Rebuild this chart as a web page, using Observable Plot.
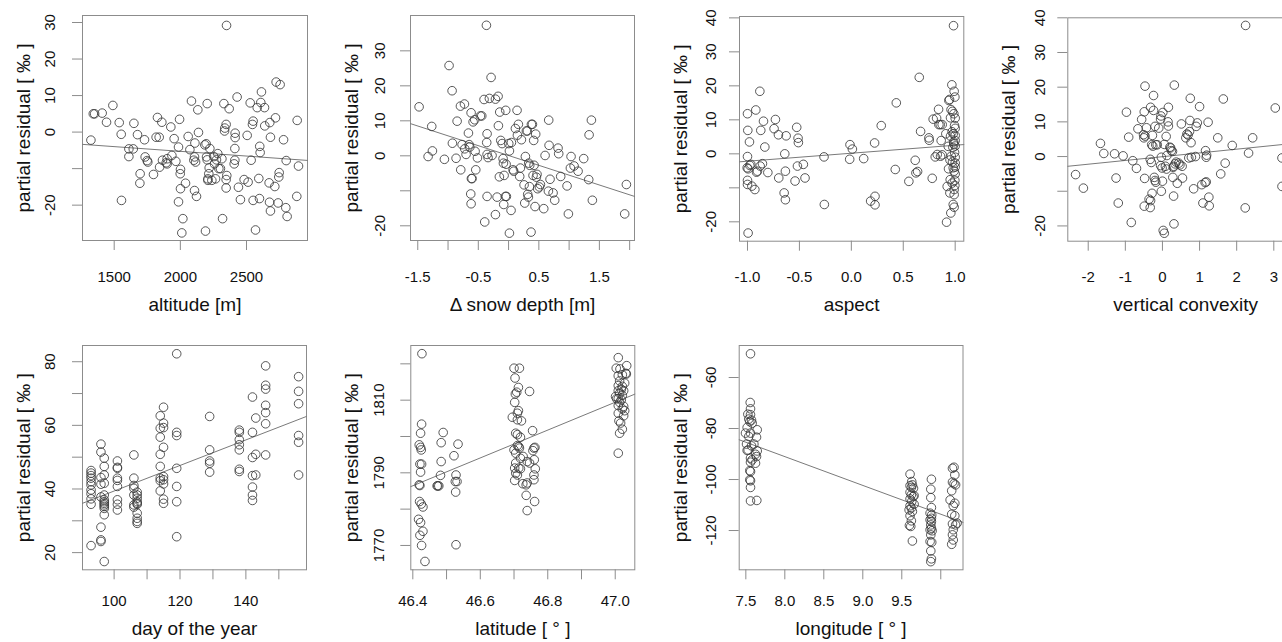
<!DOCTYPE html>
<html>
<head>
<meta charset="utf-8">
<script src="https://cdn.jsdelivr.net/npm/d3@7"></script>
<script src="https://cdn.jsdelivr.net/npm/@observablehq/plot@0.6"></script>
<style>
html, body { margin: 0; padding: 0; background: #fff; overflow: hidden; width: 1282px; height: 642px; }
#root { position: relative; width: 1282px; height: 642px; overflow: hidden; background: #fff; }
#root svg { position: absolute; }
</style>
</head>
<body>
<div id="root"></div>
<script>
// ---------- data ----------
const altitude = [2349,1324,1342,1352,1409,1442,1490,1538,1553,1555,
1611,1611,1644,1649,1676,1696,1694,1729,1734,1749,
1754,1797,1817,1827,1840,1843,1860,1865,1893,1900,
1900,1928,1936,1953,1966,1986,1994,1986,2001,1999,
2001,2019,2011,2039,2059,2072,2084,2102,2107,2110,
2107,2115,2122,2132,2137,2185,2195,2198,2203,2203,
2208,2208,2215,2218,2223,2190,2238,2253,2258,2266,
2273,2283,2291,2303,2314,2319,2329,2334,2336,2346,
2351,2346,2346,2369,2412,2414,2414,2412,2407,2429,
2439,2454,2482,2505,2512,2528,2535,2545,2550,2550,
2568,2581,2593,2600,2603,2598,2608,2613,2636,2638,
2671,2674,2676,2681,2681,2714,2719,2724,2739,2744,
2747,2754,2780,2797,2800,2807,2880,2883,2893];
const altitudeResid = [29.2,-2.2,5.0,5.0,5.2,2.7,7.3,2.6,-0.6,-18.7,
-4.6,-6.7,-4.6,2.4,-0.7,-11.4,-14.0,-2.1,-6.8,-7.8,
-8.2,-11.6,-1.4,4.0,-1.4,-9.6,2.7,-7.7,-8.4,-8.7,
-7.3,1.4,-6.4,-1.8,-8.0,-4.1,3.5,-19.1,-10.2,-11.4,
-15.5,-23.7,-27.6,-14.0,-1.2,-4.8,8.5,-7.7,-6.8,-3.0,
-16.0,-8.2,-17.6,6.1,-0.1,-3.5,-3.2,-6.8,7.8,-7.6,
-12.8,-13.2,-11.4,-9.8,-4.5,-27.1,-13.2,-6.7,-8.7,-12.8,
-7.6,-5.9,-10.0,-10.0,-7.3,-23.7,7.8,0.3,1.1,2.1,
-11.9,-13.0,-15.3,6.4,-7.7,-0.3,-1.5,-4.5,-8.7,9.6,
-15.1,-18.5,-13.0,-0.9,-13.7,8.0,-7.7,2.1,3.0,-18.7,
-26.8,6.7,-12.7,-3.9,-5.6,-18.2,8.1,11.0,6.7,1.7,
-13.9,-19.2,2.6,-1.4,-21.6,-14.9,3.9,13.7,-19.4,-12.3,
-11.1,13.0,-2.1,-20.7,-7.8,-23.1,-17.6,3.2,-9.3];

const snowDepth = [-0.366,-1.478,-0.983,-0.933,-1.269,-1.258,-1.329,-1.060,-0.928,-0.850,
-0.867,-0.795,-0.729,-0.790,-0.768,-0.724,-0.702,-0.663,-0.652,-0.641,
-0.619,-0.603,-0.614,-0.625,-0.619,-0.586,-0.559,-0.553,-0.542,-0.514,
-0.465,-0.443,-0.405,-0.394,-0.361,-0.355,-0.355,-0.355,-0.339,-0.317,
-0.289,-0.273,-0.217,-0.217,-0.190,-0.173,-0.168,-0.152,-0.146,-0.129,
-0.107,-0.091,-0.085,-0.080,-0.074,-0.047,-0.052,-0.036,-0.041,0.003,
0.014,0.014,0.041,0.047,0.074,0.085,0.113,0.140,0.146,0.162,
0.184,0.195,0.212,0.256,0.267,0.278,0.294,0.311,0.316,0.327,
0.333,0.344,0.349,0.371,0.377,0.394,0.404,0.415,0.421,0.437,
0.448,0.459,0.470,0.481,0.509,0.526,0.581,0.603,0.658,0.663,
0.669,0.685,0.735,0.762,0.817,0.828,0.861,0.966,0.988,1.021,
1.032,1.082,1.148,1.241,1.324,1.330,1.368,1.384,1.918,1.946];
const snowResid = [37.3,14.0,25.8,18.6,8.4,1.4,-0.2,-1.0,3.6,9.9,
-0.7,14.2,14.8,-4.0,3.2,2.0,0.4,6.5,3.2,2.5,
12.3,-6.5,-6.5,-10.9,-13.7,9.7,10.3,1.3,-4.0,-0.6,
11.4,11.4,16.1,-18.9,3.8,6.3,-11.6,0.4,-0.5,16.4,
22.4,0.1,16.2,-16.8,-11.8,17.0,8.6,-6.0,12.5,4.4,
3.5,-0.8,-2.1,-13.9,-5.6,13.0,-11.6,-11.6,-2.4,3.5,
1.4,-22.1,-15.6,3.8,-4.0,-4.4,7.8,13.0,5.9,9.0,
-5.9,-3.5,4.6,-8.3,-13.5,-0.2,7.1,7.1,-11.0,-11.8,
-2.1,-8.8,-2.7,-21.8,9.0,9.0,-5.6,4.4,-2.7,-14.5,
6.2,-6.1,-5.3,-9.4,-8.9,-8.2,-15.1,0.1,-10.1,10.2,
3.0,-6.7,-10.6,-12.7,2.2,0.6,-5.9,-8.6,-16.6,-3.5,
-0.2,-2.9,-4.4,-0.8,-6.8,6.0,10.2,-12.7,-16.6,-8.2];

const aspect = [-0.994,-1.0,-0.997,-0.981,-1.0,-1.003,-0.994,-0.978,-0.968,-1.0,
-1.0,-0.958,-0.929,-0.920,-0.913,-0.904,-0.881,-0.872,-0.878,-0.856,
-0.846,-0.833,-0.804,-0.744,-0.731,-0.702,-0.699,-0.641,-0.635,-0.628,
-0.647,-0.635,-0.542,-0.519,-0.526,-0.513,-0.510,-0.462,-0.446,-0.263,
-0.260,-0.013,0.010,-0.016,0.119,0.186,0.224,0.228,0.228,0.288,
0.433,0.423,0.554,0.615,0.622,0.638,0.654,0.667,0.747,0.750,
0.779,0.788,0.808,0.821,0.827,0.840,0.843,0.856,0.865,0.875,
0.859,0.875,0.910,0.917,0.923,0.933,0.936,0.939,0.946,0.949,
0.952,0.955,0.955,0.958,0.962,0.968,0.971,0.974,0.974,0.978,
0.981,0.981,0.981,0.984,0.987,0.987,0.990,0.990,0.990,0.994,
0.994,0.997,0.997,0.997,1.0,1.0,1.0,1.0,1.0,1.0,
1.0,1.0,1.0,0.96,0.99,0.97,0.99,0.95,0.985];
const aspectResid = [-23.3,11.8,6.9,3.5,-0.8,-4.1,-4.4,-3.4,-3.1,-7.8,
-9.0,-9.5,-10.5,12.9,-5.4,-5.1,18.4,6.9,-3.6,-2.9,
9.6,2.0,-5.5,7.4,10.1,5.6,-7.1,0.0,-5.1,5.3,
-11.5,-13.5,-8.0,-3.6,7.8,4.6,3.3,-3.1,-7.1,-0.9,
-14.9,2.7,1.4,-1.6,-1.4,-13.9,3.2,-12.5,-15.0,8.3,
15.0,-4.6,-8.1,-1.9,-5.6,-5.2,22.5,6.6,4.7,4.0,
-7.2,10.2,-0.9,10.5,-0.2,13.1,8.6,8.6,3.9,8.6,
-0.7,-0.3,5.9,-20.1,-9.6,2.2,-4.4,15.7,16.0,-11.5,
-7.6,10.6,5.2,-17.4,-0.7,20.3,-8.6,12.5,-2.4,1.9,
5.9,-4.1,-14.9,37.7,11.8,2.9,18.4,-5.1,-15.7,8.3,
0.4,16.7,-7.8,-9.3,10.5,5.4,3.9,-1.0,-3.9,-2.7,
-5.9,2.3,7.5,13.0,-12.0,6.5,-10.5,-1.8,3.5];

const convexity = [-2.34,-2.13,-1.67,-1.58,-1.29,-1.25,-1.19,-1.06,-0.97,-0.91,
-0.84,-0.80,-0.70,-0.66,-0.56,-0.51,-0.50,-0.49,-0.47,-0.47,
-0.48,-0.49,-0.43,-0.36,-0.33,-0.32,-0.33,-0.30,-0.32,-0.28,
-0.29,-0.27,-0.26,-0.24,-0.24,-0.22,-0.20,-0.18,-0.20,-0.18,
-0.14,-0.10,-0.05,-0.04,-0.03,-0.05,-0.03,-0.01,0.01,0.0,
0.02,0.05,0.05,0.08,0.10,0.11,0.12,0.15,0.16,0.16,
0.20,0.22,0.24,0.27,0.29,0.28,0.30,0.31,0.32,0.30,
0.34,0.37,0.40,0.44,0.47,0.51,0.53,0.54,0.63,0.66,
0.69,0.71,0.73,0.75,0.74,0.77,0.78,0.84,0.89,0.91,
0.94,1.00,1.06,1.09,1.15,1.16,1.18,1.18,1.19,1.23,
1.25,1.26,1.49,1.57,1.64,1.69,1.88,2.24,2.23,2.32,
2.43,3.04,3.22,3.22];
const convexityResid = [-5.2,-9.1,3.8,0.9,0.8,-6.2,-13.4,0.2,12.8,5.6,
-19.0,-1.2,-3.4,8.0,10.7,6.3,5.4,12.9,20.3,5.9,
-6.3,-14.3,8.3,-12.3,-14.7,-12.7,-0.8,-1.7,14.2,-10.6,
3.4,6.1,3.0,17.6,13.3,-6.0,-6.9,3.4,8.7,-7.4,
3.4,8.2,10.8,11.7,-0.2,-2.6,-10.0,-3.3,12.7,-7.1,
-21.3,3.5,-22.1,-2.8,5.8,-3.6,0.3,10.0,8.8,14.2,
2.7,2.5,1.7,1.5,-3.1,-6.0,-11.4,-19.4,20.6,-2.8,
-2.1,-1.6,-7.7,-1.9,-2.4,9.4,-2.8,-6.2,5.4,6.5,
6.2,-0.4,7.2,16.8,10.4,4.0,-0.2,-9.3,0.0,8.7,
9.7,14.4,-8.1,-13.4,-7.5,1.7,-0.2,-7.3,0.4,9.9,
-11.7,-14.2,5.4,-5.0,16.6,-1.9,3.2,37.8,-14.8,1.0,
5.4,14.0,-0.4,-8.6];

// day of the year: one list of residuals per sampling day
const sampleDays = [93, 96, 97, 101, 106, 107, 114, 115, 119, 129, 138, 142, 143, 146, 156];
const dayResid = [
  [45.8,45.0,44.2,43.4,42.3,41.3,39.7,38.5,36.9,35.2,22.2],
  [54.1,51.6,43.6,41.5,37.5,28.0,24.0,23.5],
  [49.7,47.1,44.4,41.8,38.1,36.6,36.0,35.5,35.0,34.5,33.9,31.9,17.2],
  [48.8,46.8,46.5,43.4,42.7,40.8,36.6,35.2,33.4],
  [50.7,43.4,41.1,40.2,38.1,35.0,34.3],
  [39.0,38.1,37.1,36.0,35.5,35.2,32.4,30.8,29.8,29.2],
  [63.0,59.1,56.3,50.9,47.1,43.4,42.6,39.4],
  [65.7,60.7,59.3,53.1,43.9,42.9,41.6,36.8,35.5],
  [82.5,57.8,56.8,46.5,40.8,36.0,25.0],
  [62.8,52.3,48.8,48.1,45.3],
  [58.5,57.8,55.5,53.9,52.3,46.2,45.5],
  [68.9,57.8,49.9,44.2,40.6,38.1,36.4],
  [62.3,50.9,44.4],
  [78.7,72.6,71.4,66.3,64.0,60.5,50.7],
  [75.3,70.7,66.8,56.8,54.7,44.4]
];

const latitude = [46.427,46.426,46.423,46.419,46.423,46.425,46.421,46.426,46.423,46.419,
46.421,46.420,46.425,46.430,46.417,46.423,46.430,46.421,46.426,46.436,
46.472,46.474,46.477,46.482,46.484,46.484,46.490,46.522,46.526,46.527,
46.528,46.531,46.528,46.534,
46.700,46.716,46.703,46.713,46.708,46.704,46.746,46.702,46.713,46.710,
46.695,46.710,46.722,46.705,46.710,46.719,46.755,46.700,46.710,46.714,
46.716,46.705,46.719,46.727,46.756,46.759,46.762,46.705,46.714,46.719,
46.739,46.746,46.760,46.763,46.705,46.710,46.759,46.702,46.726,46.736,
46.739,46.759,46.736,46.761,46.739,46.702,
47.009,47.003,47.014,47.034,47.031,47.033,47.009,47.021,47.013,47.028,
47.009,47.021,47.018,47.009,47.025,47.013,47.021,47.001,47.009,47.018,
47.013,47.009,47.025,47.021,47.028,47.009,47.025,47.011,47.016,47.021,
47.013,47.009,47.004];
const latitudeResid = [1822.8,1803.4,1800.9,1797.7,1797.0,1796.3,1792.4,1792.4,1790.2,1786.7,
1786.5,1782.1,1781.4,1780.6,1777.2,1776.3,1773.9,1772.8,1770.0,1765.6,
1786.4,1786.4,1786.4,1789.3,1798.3,1793.1,1801.1,1794.7,1787.6,1784.7,
1789.4,1787.6,1770.2,1797.9,
1818.8,1818.8,1816.1,1813.5,1812.2,1811.7,1812.4,1809.4,1807.1,1806.4,
1805.3,1804.6,1804.3,1800.9,1800.5,1799.8,1801.6,1796.3,1797.5,1797.2,
1796.8,1795.4,1794.0,1794.5,1796.1,1796.8,1797.0,1792.7,1791.3,1791.1,
1793.1,1792.7,1793.6,1791.1,1789.9,1789.4,1789.4,1787.9,1787.0,1786.7,
1787.2,1788.1,1783.8,1782.1,1779.6,1791.3,
1821.7,1818.8,1818.6,1819.5,1817.4,1817.2,1816.7,1817.0,1815.3,1814.7,
1814.0,1813.8,1813.0,1812.6,1812.6,1811.9,1811.3,1811.0,1810.4,1810.1,
1809.4,1808.5,1808.3,1807.6,1807.1,1806.4,1805.7,1804.3,1803.7,1802.0,
1800.9,1795.4,1810.4];

const longitude = [7.56,7.556,7.56,7.526,7.56,7.538,7.573,7.551,7.581,7.517,
7.646,7.496,7.56,7.538,7.637,7.509,7.53,7.517,7.603,7.573,
7.646,7.624,7.637,7.56,7.581,7.624,7.56,7.551,7.56,7.551,
7.56,7.56,7.56,7.641,
9.606,9.628,9.636,9.606,9.623,9.65,9.606,9.623,9.645,9.606,
9.628,9.658,9.606,9.623,9.636,9.606,9.623,9.598,9.615,9.636,
9.658,9.594,
9.88,9.872,9.872,9.88,9.863,9.884,9.863,9.88,9.872,9.88,
9.863,9.889,9.872,9.863,9.884,9.872,9.88,9.872,9.88,
10.17,10.15,10.18,10.15,10.17,10.19,10.14,10.12,10.18,10.16,
10.14,10.18,10.15,10.19,10.16,10.15,10.16,10.14,10.21];
const longitudeResid = [-50.7,-69.8,-72.3,-74.4,-74.6,-76.3,-76.7,-77.3,-77.9,-79.6,
-80.5,-81.8,-81.8,-83.1,-83.4,-86.1,-88.4,-88.6,-86.1,-86.8,
-88.8,-90.1,-91.0,-91.6,-92.3,-93.6,-93.2,-96.5,-96.9,-100.1,
-100.5,-103.1,-108.4,-108.2,
-97.9,-100.8,-102.1,-102.4,-103.1,-103.4,-105.0,-106.0,-106.7,-107.6,
-108.6,-109.7,-110.3,-111.2,-112.5,-114.2,-116.2,-118.0,-118.4,-124.1,
-106.3,-111.9,
-99.9,-103.8,-107.1,-111.0,-113.2,-113.9,-115.8,-116.5,-117.8,-119.1,
-119.7,-120.1,-121.7,-124.3,-124.6,-128.0,-131.1,-132.2,-115.2,
-95.2,-95.6,-98.2,-101.0,-101.6,-102.1,-104.4,-108.0,-109.3,-110.3,
-113.6,-114.2,-117.4,-117.8,-119.7,-121.7,-123.7,-125.4,-117.1];

// fitted partial-effect lines (intercept, slope) per panel
const fitIntercept = [-0.102, 0.09, 0.18, -0.04, -0.79, 7.92, -0.70];
const fitSlope = [-0.002584, -5.62, 2.35, 1.084, 0.4015, 38.33, -11.29];

// axis titles
const xTitles = ["altitude [m]", "\u0394 snow depth [m]", "aspect", "vertical convexity",
                 "day of the year", "latitude [ \u00b0 ]", "longitude [ \u00b0 ]"];
const yTitle = "partial residual [ \u2030 ]";

// tick values and the ones that carry a label
const xTickValues = [
  [1500, 2000, 2500],
  [-1.5, -1.0, -0.5, 0, 0.5, 1.0, 1.5, 2.0],
  [-1.0, -0.5, 0, 0.5, 1.0],
  [-2, -1, 0, 1, 2, 3],
  [100, 110, 120, 130, 140, 150],
  [46.4, 46.5, 46.6, 46.7, 46.8, 46.9, 47.0],
  [7.5, 8.0, 8.5, 9.0, 9.5, 10.0]
];
const xTickLabels = [
  [1500, 2000, 2500],
  [-1.5, -0.5, 0.5, 1.5],
  [-1.0, -0.5, 0, 0.5, 1.0],
  [-2, -1, 0, 1, 2, 3],
  [100, 120, 140],
  [46.4, 46.6, 46.8, 47.0],
  [7.5, 8.0, 8.5, 9.0, 9.5]
];
const yTickValues = [
  [-20, -10, 0, 10, 20, 30],
  [-20, -10, 0, 10, 20, 30],
  [-20, -10, 0, 10, 20, 30, 40],
  [-20, -10, 0, 10, 20, 30, 40],
  [20, 30, 40, 50, 60, 70, 80],
  [1770, 1780, 1790, 1800, 1810, 1820],
  [-120, -100, -80, -60]
];
const yTickLabels = [
  [-20, 0, 10, 20, 30],
  [-20, 0, 10, 20, 30],
  [-20, 0, 10, 20, 30, 40],
  [-20, 0, 10, 20, 30, 40],
  [20, 40, 60, 80],
  [1770, 1790, 1810],
  [-120, -100, -80, -60]
];
const xFormats = ["d", ".1f", ".1f", "d", "d", ".1f", ".1f"];

// ---------- tables ----------
const dayOfYear = sampleDays.flatMap((d, i) => dayResid[i].map(() => d));
const dayResidFlat = dayResid.flat();
const series = [
  [altitude, altitudeResid],
  [snowDepth, snowResid],
  [aspect, aspectResid],
  [convexity, convexityResid],
  [dayOfYear, dayResidFlat],
  [latitude, latitudeResid],
  [longitude, longitudeResid]
];

// ---------- layout ----------
const layout = [
  {left: 0,   top: 0,   width: 320, mt: 15,   mr: 13,  mb: 81,   ml: 82,    xd: [1260.4, 2961],   yd: [-29.68, 31.92],  xpad: 20.5, ypad: 17.5, ldy: 57},
  {left: 320, top: 0,   width: 320, mt: 15,   mr: 6,   mb: 81,   ml: 90,    xd: [-1.62, 2.08],    yd: [-24.2, 40.1],    xpad: 20.5, ypad: 16,   ldy: 57},
  {left: 640, top: 0,   width: 330, mt: 16,   mr: 6.7, mb: 80.3, ml: 99,    xd: [-1.077, 1.083],  yd: [-25.7, 40.4],    xpad: 20.5, ypad: 14,   ldy: 56.3},
  {left: 960, top: 0,   width: 360, mt: 17.3, mr: 17,  mb: 80.3, ml: 107.3, xd: [-2.55, 3.8],     yd: [-24.4, 40.0],    xpad: 20.5, ypad: 13,   ldy: 56.3},
  {left: 0,   top: 321, width: 320, mt: 24,   mr: 14,  mb: 72.7, ml: 82,    xd: [90.4, 158.4],    yd: [14.6, 85.1],     xpad: 15.7, ypad: 17.5, ldy: 52},
  {left: 320, top: 321, width: 320, mt: 24,   mr: 5.7, mb: 72.7, ml: 90.3,  xd: [46.394, 47.058], yd: [1763.3, 1825.05],xpad: 15.7, ypad: 17,   ldy: 52},
  {left: 640, top: 321, width: 330, mt: 24,   mr: 7.5, mb: 72.7, ml: 98.7,  xd: [7.415, 10.285],  yd: [-135.4, -47.45], xpad: 15.7, ypad: 13.7, ldy: 52}
];

const FONT = "'Liberation Sans', Arial, Helvetica, sans-serif";
const GRAY = "#8c8c8c";
const INK = "#111";

function fmt(spec) {
  const f = d3.format(spec);
  return d => f(d).replace("\u2212", "-");
}

const root = document.getElementById("root");

layout.forEach((L, i) => {
  const [xs, ys] = series[i];
  const pts = xs.map((x, j) => ({x, y: ys[j]}));
  const fitPts = L.xd.map(x => ({x, y: fitIntercept[i] + fitSlope[i] * x}));
  const fx = fmt(xFormats[i]);
  const fy = fmt("d");
  const svg = Plot.plot({
    width: L.width,
    height: 321,
    marginTop: L.mt, marginRight: L.mr, marginBottom: L.mb, marginLeft: L.ml,
    style: {background: "transparent", overflow: "visible", fontFamily: FONT, color: INK},
    x: {domain: L.xd},
    y: {domain: L.yd},
    marks: [
      Plot.frame({stroke: GRAY, strokeWidth: 1}),
      Plot.axisX({
        ticks: xTickValues[i], tickSize: 10, tickPadding: L.xpad,
        tickFormat: d => xTickLabels[i].includes(d) ? fx(d) : "",
        fontSize: 15, stroke: GRAY, fill: INK, label: null
      }),
      Plot.axisY({
        ticks: yTickValues[i], tickSize: 10, tickPadding: L.ypad, tickRotate: -90,
        tickFormat: d => yTickLabels[i].includes(d) ? fy(d) : "",
        fontSize: 15, stroke: GRAY, fill: INK, label: null
      }),
      Plot.line(fitPts, {x: "x", y: "y", stroke: "#7a7a7a", strokeWidth: 1}),
      Plot.dot(pts, {x: "x", y: "y", r: 4.3, stroke: "#3a3a3a", strokeWidth: 0.85, fill: "none"}),
      Plot.text([xTitles[i]], {text: d => d, frameAnchor: "bottom", dy: L.ldy, lineAnchor: "top", fontSize: 19, fill: INK}),
      Plot.text([yTitle], {text: d => d, frameAnchor: "left", rotate: -90, dx: -66, lineAnchor: "top", textAnchor: "middle", fontSize: 19, fill: INK})
    ]
  });
  svg.style.left = L.left + "px";
  svg.style.top = L.top + "px";
  svg.style.maxWidth = "none";
  root.appendChild(svg);
});
</script>
</body>
</html>
